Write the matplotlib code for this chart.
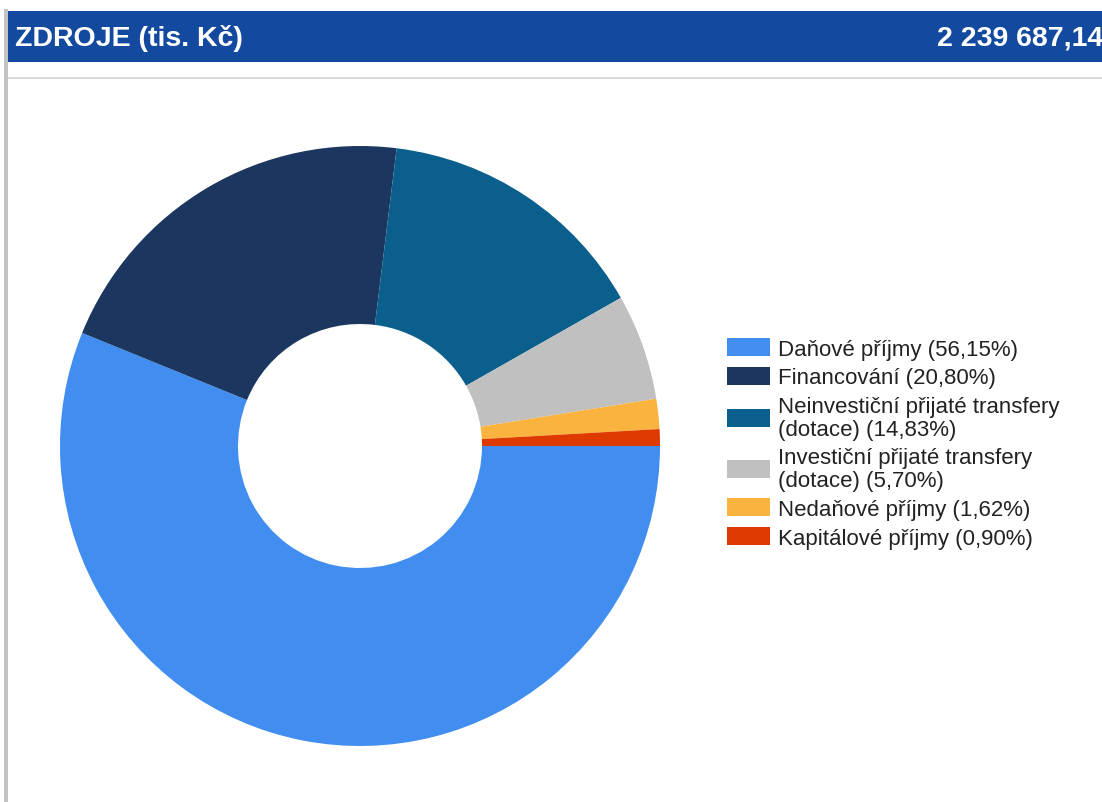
import matplotlib
matplotlib.use("Agg")
import matplotlib.pyplot as plt
from matplotlib.patches import Rectangle

plt.rcParams['font.family'] = ['Liberation Sans', 'DejaVu Sans']

title = "ZDROJE (tis. Kč)"
total_label = "2 239 687,14"
categories = ["Daňové příjmy", "Financování",
              "Neinvestiční přijaté transfery\n(dotace)",
              "Investiční přijaté transfery\n(dotace)",
              "Nedaňové příjmy", "Kapitálové příjmy"]
shares = [56.15, 20.80, 14.83, 5.70, 1.62, 0.90]
colors = ["#418ef0", "#1b365f", "#0b5f8c", "#c0c0c0", "#fbb33f", "#de3a00"]

W, H = 1102, 803
fig = plt.figure(figsize=(W / 100, H / 100), dpi=100)
fig.patch.set_facecolor("white")

def fx(px):
    return px / W

def fy(py):
    return 1 - py / H

# header bar
fig.patches.append(Rectangle((fx(7), fy(63)), fx(W - 7) + 0.01, (63 - 12) / H,
                             transform=fig.transFigure, facecolor="#134a9f",
                             edgecolor="none", zorder=1))
# left gray border
fig.patches.append(Rectangle((fx(4), 0), fx(4), fy(10),
                             transform=fig.transFigure, facecolor="#c4c4c4",
                             edgecolor="none", zorder=1))
# line under header
fig.patches.append(Rectangle((fx(8), fy(80)), 1, 2 / H,
                             transform=fig.transFigure, facecolor="#dadada",
                             edgecolor="none", zorder=1))

fig.text(fx(15), fy(39), title, color="white", fontsize=20.5, fontweight="bold",
         va="center", ha="left", zorder=3)
fig.text(fx(1103), fy(39), total_label, color="white", fontsize=20.5, fontweight="bold",
         va="center", ha="right", zorder=3)

# donut
cx, cy, r = 360, 447, 300
ax = fig.add_axes([fx(cx - r), fy(cy + r), 2 * r / W, 2 * r / H])
wedges, _ = ax.pie(shares, colors=colors, startangle=0, counterclock=False,
                   radius=1.0, wedgeprops=dict(width=1 - 122 / 300, edgecolor="none"))
ax.set_xlim(-1, 1)
ax.set_ylim(-1, 1)
ax.set_aspect("equal")
ax.axis("off")

labels = [f"{c} ({s:.2f}%)".replace(".", ",") for c, s in zip(categories, shares)]
leg = fig.legend(wedges, labels, loc="upper left",
                 bbox_to_anchor=(fx(727), fy(339)), frameon=False,
                 fontsize=16, handlelength=1.95, handleheight=0.85,
                 handletextpad=0.35, labelspacing=0.33, borderpad=0,
                 borderaxespad=0)
for t in leg.get_texts():
    t.set_color("#222222")
    t.set_linespacing(1.12)

fig.savefig("out.png", dpi=100, facecolor="white")
